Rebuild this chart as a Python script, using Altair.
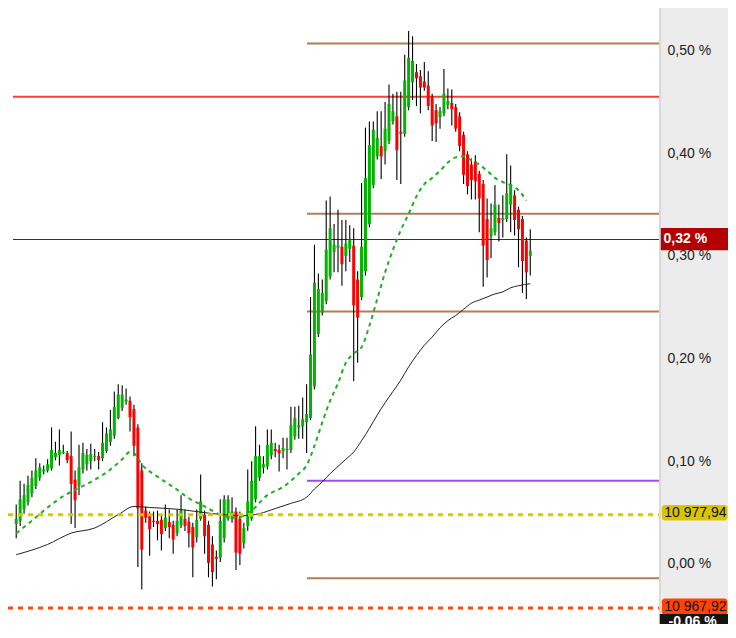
import altair as alt
import pandas as pd

# ---- candle data (values in %) ----
OPEN = [0.039, 0.042, 0.053, 0.060, 0.069, 0.076, 0.084, 0.090, 0.091, 0.093,
        0.104, 0.106, 0.108, 0.108, 0.105, 0.082, 0.076, 0.092, 0.097, 0.100,
        0.104, 0.105, 0.103, 0.110, 0.119, 0.125, 0.142, 0.152, 0.158, 0.159,
        0.151, 0.133, 0.091, 0.052, 0.048, 0.042, 0.042, 0.043, 0.035, 0.041,
        0.038, 0.030, 0.038, 0.044, 0.041, 0.036, 0.026, 0.044, 0.048, 0.038,
        0.019, 0.007, 0.006, 0.025, 0.044, 0.044, 0.051, 0.044, 0.020, 0.037,
        0.044, 0.063, 0.084, 0.094, 0.095, 0.106, 0.112, 0.111, 0.110, 0.111,
        0.111, 0.124, 0.133, 0.134, 0.138, 0.142, 0.173, 0.224, 0.245, 0.256,
        0.280, 0.304, 0.308, 0.309, 0.300, 0.307, 0.310, 0.277, 0.260, 0.285,
        0.331, 0.369, 0.397, 0.407, 0.402, 0.412, 0.431, 0.436, 0.421, 0.419,
        0.445, 0.469, 0.479, 0.475, 0.470, 0.466, 0.455, 0.442, 0.435, 0.439,
        0.447, 0.449, 0.445, 0.436, 0.418, 0.399, 0.389, 0.392, 0.380, 0.370,
        0.336, 0.319, 0.323, 0.337, 0.335, 0.336, 0.350, 0.359, 0.345, 0.336,
        0.315, 0.300]
HIGH = [0.058, 0.081, 0.078, 0.086, 0.091, 0.103, 0.098, 0.096, 0.102, 0.133,
        0.119, 0.131, 0.116, 0.110, 0.129, 0.091, 0.116, 0.118, 0.112, 0.117,
        0.112, 0.109, 0.138, 0.133, 0.150, 0.168, 0.175, 0.174, 0.171, 0.163,
        0.155, 0.136, 0.098, 0.056, 0.051, 0.051, 0.052, 0.047, 0.058, 0.053,
        0.042, 0.053, 0.067, 0.053, 0.046, 0.040, 0.053, 0.087, 0.052, 0.042,
        0.027, 0.013, 0.063, 0.067, 0.067, 0.065, 0.055, 0.051, 0.040, 0.092,
        0.100, 0.134, 0.116, 0.105, 0.131, 0.131, 0.118, 0.116, 0.123, 0.123,
        0.153, 0.153, 0.154, 0.162, 0.175, 0.260, 0.311, 0.283, 0.277, 0.354,
        0.358, 0.331, 0.345, 0.335, 0.335, 0.330, 0.327, 0.285, 0.371, 0.425,
        0.431, 0.431, 0.441, 0.441, 0.450, 0.467, 0.458, 0.460, 0.460, 0.496,
        0.519, 0.514, 0.487, 0.481, 0.489, 0.480, 0.458, 0.448, 0.445, 0.482,
        0.463, 0.462, 0.448, 0.440, 0.421, 0.402, 0.395, 0.398, 0.383, 0.374,
        0.356, 0.351, 0.369, 0.350, 0.359, 0.399, 0.388, 0.364, 0.348, 0.339,
        0.318, 0.326]
LOW = [0.025, 0.037, 0.049, 0.057, 0.065, 0.073, 0.081, 0.087, 0.089, 0.091,
       0.101, 0.096, 0.107, 0.098, 0.039, 0.035, 0.067, 0.088, 0.091, 0.092,
       0.100, 0.092, 0.100, 0.108, 0.115, 0.122, 0.141, 0.149, 0.155, 0.129,
       0.105, -0.003, -0.025, 0.040, 0.008, 0.036, 0.023, 0.013, 0.032, 0.025,
       0.010, 0.027, 0.035, 0.032, 0.016, -0.013, 0.021, 0.042, 0.010, -0.013,
       -0.022, -0.015, 0.002, 0.021, 0.042, 0.040, -0.006, -0.001, 0.015, 0.032,
       0.042, 0.060, 0.081, 0.088, 0.092, 0.102, 0.104, 0.090, 0.103, 0.092,
       0.108, 0.121, 0.122, 0.122, 0.108, 0.140, 0.170, 0.221, 0.242, 0.253,
       0.277, 0.284, 0.284, 0.271, 0.285, 0.294, 0.178, 0.196, 0.257, 0.281,
       0.328, 0.366, 0.394, 0.375, 0.389, 0.409, 0.428, 0.374, 0.370, 0.416,
       0.442, 0.452, 0.446, 0.439, 0.461, 0.442, 0.412, 0.411, 0.424, 0.436,
       0.443, 0.427, 0.421, 0.402, 0.370, 0.360, 0.355, 0.355, 0.323, 0.270,
       0.279, 0.298, 0.320, 0.314, 0.318, 0.333, 0.323, 0.320, 0.289, 0.264,
       0.258, 0.281]
CLOSE = [0.044, 0.063, 0.067, 0.077, 0.084, 0.091, 0.094, 0.092, 0.097, 0.111,
         0.108, 0.111, 0.109, 0.101, 0.078, 0.062, 0.094, 0.108, 0.106, 0.107,
         0.105, 0.101, 0.118, 0.127, 0.131, 0.153, 0.165, 0.165, 0.160, 0.143,
         0.115, 0.054, 0.014, 0.045, 0.034, 0.041, 0.039, 0.029, 0.045, 0.036,
         0.024, 0.042, 0.053, 0.037, 0.030, 0.016, 0.043, 0.061, 0.027, 0.001,
         -0.008, 0.005, 0.042, 0.063, 0.063, 0.051, 0.011, 0.010, 0.035, 0.061,
         0.081, 0.105, 0.105, 0.097, 0.116, 0.118, 0.110, 0.108, 0.113, 0.112,
         0.135, 0.142, 0.135, 0.141, 0.146, 0.204, 0.274, 0.268, 0.264, 0.306,
         0.327, 0.311, 0.310, 0.292, 0.312, 0.316, 0.252, 0.240, 0.309, 0.376,
         0.408, 0.423, 0.415, 0.397, 0.424, 0.448, 0.441, 0.403, 0.419, 0.471,
         0.493, 0.490, 0.473, 0.464, 0.464, 0.446, 0.427, 0.429, 0.441, 0.458,
         0.451, 0.443, 0.424, 0.407, 0.379, 0.368, 0.374, 0.373, 0.356, 0.310,
         0.296, 0.327, 0.350, 0.332, 0.337, 0.361, 0.370, 0.335, 0.326, 0.295,
         0.284, 0.305]

# ---- moving averages (candle index, value in %) ----
MA_FAST_IDX = [0, 4, 8, 12, 16, 20, 24, 27, 29, 30, 32, 36, 40, 44, 48, 52, 56, 58, 60, 64,
               68, 72, 74, 76, 78, 80, 82, 84, 86, 88, 90, 92, 94, 96, 98, 100, 102, 104, 106, 108,
               110, 112, 114, 116, 118, 120, 122, 124, 126, 128, 130]
MA_FAST_VAL = [0.030, 0.042, 0.055, 0.066, 0.074, 0.082, 0.092, 0.102, 0.109, 0.108,
               0.097, 0.085, 0.075, 0.064, 0.056, 0.048, 0.045, 0.047, 0.052, 0.067,
               0.075, 0.088, 0.096, 0.115, 0.138, 0.159, 0.176, 0.196, 0.205, 0.211,
               0.232, 0.258, 0.284, 0.306, 0.325, 0.341, 0.358, 0.370, 0.376, 0.383,
               0.391, 0.396, 0.397, 0.393, 0.389, 0.383, 0.376, 0.372, 0.369, 0.364, 0.354]
MA_SLOW_IDX = [0, 8, 14, 20, 26, 30, 34, 42, 50, 58, 62, 66, 70, 74, 76, 78, 80, 82, 84, 86,
               88, 90, 92, 94, 96, 98, 100, 102, 104, 106, 108, 110, 112, 114, 116, 118, 120, 122,
               124, 126, 128, 131]
MA_SLOW_VAL = [0.009, 0.019, 0.030, 0.035, 0.048, 0.056, 0.055, 0.053, 0.049, 0.047,
               0.049, 0.054, 0.059, 0.065, 0.073, 0.080, 0.088, 0.095, 0.102, 0.109,
               0.120, 0.132, 0.145, 0.157, 0.168, 0.179, 0.192, 0.203, 0.213, 0.221,
               0.230, 0.237, 0.242, 0.248, 0.254, 0.257, 0.260, 0.263, 0.265, 0.269,
               0.271, 0.273]

# ---- horizontal levels ----
SOLID_VALUE = [0.507, 0.455, 0.341, 0.316, 0.246, 0.081, -0.014]
SOLID_START = [74.1, -0.82, 74.1, -0.82, 74.1, 74.1, 74.1]
SOLID_KIND = ["brown", "red", "brown", "last", "brown", "purple", "brown"]

DOTTED_VALUE = [0.048, -0.043]
DOTTED_KIND = ["yellow", "orange"]

BADGE_VALUE = [0.316, 0.048, -0.043, -0.060]
BADGE_TEXT = ["0,32 %", "10 977,94", "10 967,92", "-0,06 %"]

TICKS = [0.0, 0.1, 0.2, 0.3, 0.4, 0.5]

# ---- layout ----
W, H = 651, 616
PANEL = 69
X_DOMAIN = [-0.82, 162.53]
Y_DOMAIN = [-0.0585, 0.5415]
FONT = "Liberation Sans"

xs = alt.Scale(domain=X_DOMAIN, nice=False, zero=False)
ys = alt.Scale(domain=Y_DOMAIN, nice=False, zero=False)

yaxis = alt.Axis(orient="right", values=TICKS,
                 labelExpr="replace(format(datum.value, '.2f'), '.', ',') + ' %'",
                 domain=False, ticks=False, grid=False, labelPadding=8,
                 labelFont=FONT, labelFontSize=14, labelColor="#222222",
                 labelAlign="left", labelBaseline="middle", title=None)


def X(field):
    return alt.X(field, scale=xs, axis=None)


def Y(field):
    return alt.Y(field, scale=ys, axis=yaxis)


n = len(OPEN)
candles = pd.DataFrame({"i": list(range(n)), "open": OPEN, "high": HIGH,
                        "low": LOW, "close": CLOSE})
candles["dir"] = ["up" if c >= o else "down" for o, c in zip(OPEN, CLOSE)]

fast = pd.DataFrame({"i": MA_FAST_IDX, "v": MA_FAST_VAL})
slow = pd.DataFrame({"i": MA_SLOW_IDX, "v": MA_SLOW_VAL})
solid = pd.DataFrame({"value": SOLID_VALUE, "start": SOLID_START, "kind": SOLID_KIND})
dotted = pd.DataFrame({"value": DOTTED_VALUE, "kind": DOTTED_KIND})
badges = pd.DataFrame({"value": BADGE_VALUE, "text": BADGE_TEXT})

layers = []

solid_style = {"brown": ("#b07d57", 2), "red": ("#ff3a3a", 2),
               "last": ("#333333", 1), "purple": ("#9b4cf2", 2)}
for kind, (col, sw) in solid_style.items():
    layers.append(
        alt.Chart(solid).transform_filter(alt.datum.kind == kind)
        .mark_rule(color=col, strokeWidth=sw)
        .encode(x=X("start:Q"), x2=alt.value(W), y=Y("value:Q"))
    )

wicks = alt.Chart(candles).mark_rule(color="#000000", strokeWidth=1.1).encode(
    x=X("i:Q"), y=Y("low:Q"), y2="high:Q",
)
bodies = alt.Chart(candles).mark_bar(width=3).encode(
    x=X("i:Q"), y=Y("open:Q"), y2="close:Q",
    color=alt.Color("dir:N", scale=alt.Scale(domain=["up", "down"],
                                             range=["#00b400", "#ff0000"]), legend=None),
)
layers += [wicks, bodies]

layers.append(
    alt.Chart(slow).mark_line(color="#222222", strokeWidth=1, interpolate="monotone")
    .encode(x=X("i:Q"), y=Y("v:Q"))
)
layers.append(
    alt.Chart(fast).mark_line(color="#1fae1f", strokeWidth=2, strokeDash=[4, 4],
                              interpolate="monotone")
    .encode(x=X("i:Q"), y=Y("v:Q"))
)

dotted_style = {"yellow": "#d9c800", "orange": "#ff4a10"}
for kind, col in dotted_style.items():
    layers.append(
        alt.Chart(dotted).transform_filter(alt.datum.kind == kind)
        .mark_rule(color=col, strokeWidth=3, strokeDash=[5, 5])
        .encode(x=alt.value(0), x2=alt.value(W), y=Y("value:Q"))
    )

# separator of the price panel
layers.append(
    alt.Chart(solid).mark_rule(color="#d9d9d9", strokeWidth=2)
    .encode(x=alt.value(W + 1), y=alt.value(0), y2=alt.value(H))
)

# badges: (text, fill, text colour, weight, x0, x1, top offset, bottom offset, text x, dy, radius)
RIGHT = W + PANEL
badge_style = [
    ("0,32 %", "#b30000", "#ffffff", "bold", 652.8, RIGHT, -11.6, 10.7, 655.5, -0.5, 0),
    ("10 977,94", "#d8c400", "#111111", "normal", 653.8, RIGHT - 0.5, -9.7, 5.8, 656.3, -2, 3),
    ("10 967,92", "#ff4400", "#111111", "normal", 653.8, RIGHT - 0.5, -9.7, 6.8, 656.3, -1.5, 3),
    ("-0,06 %", "#141414", "#ffffff", "bold", 651.8, RIGHT, -11.6, 11.6, 660.5, -4, 0),
]
for txt, fill, tcol, weight, x0, x1, t0, t1, tx, dy, rad in badge_style:
    base = alt.Chart(badges).transform_filter(alt.datum.text == txt)
    layers.append(
        base.mark_rect(color=fill, yOffset=t0, y2Offset=t1, cornerRadius=rad)
        .encode(x=alt.value(x0), x2=alt.value(x1), y=Y("value:Q"), y2="value:Q")
    )
    layers.append(
        base.mark_text(color=tcol, font=FONT, fontSize=14, fontWeight=weight,
                       align="left", baseline="middle", dy=dy)
        .encode(x=alt.value(tx), y=Y("value:Q"), text="text:N")
    )

chart = alt.layer(*layers).properties(
    width=W, height=H,
    autosize=alt.AutoSizeParams(type="none"),
    padding={"left": 0, "top": 0, "right": PANEL, "bottom": 0},
    background="#ececec",
).configure_view(fill="#ffffff", strokeWidth=0)

chart.save("out.html", embed_options={"renderer": "svg", "actions": False})
